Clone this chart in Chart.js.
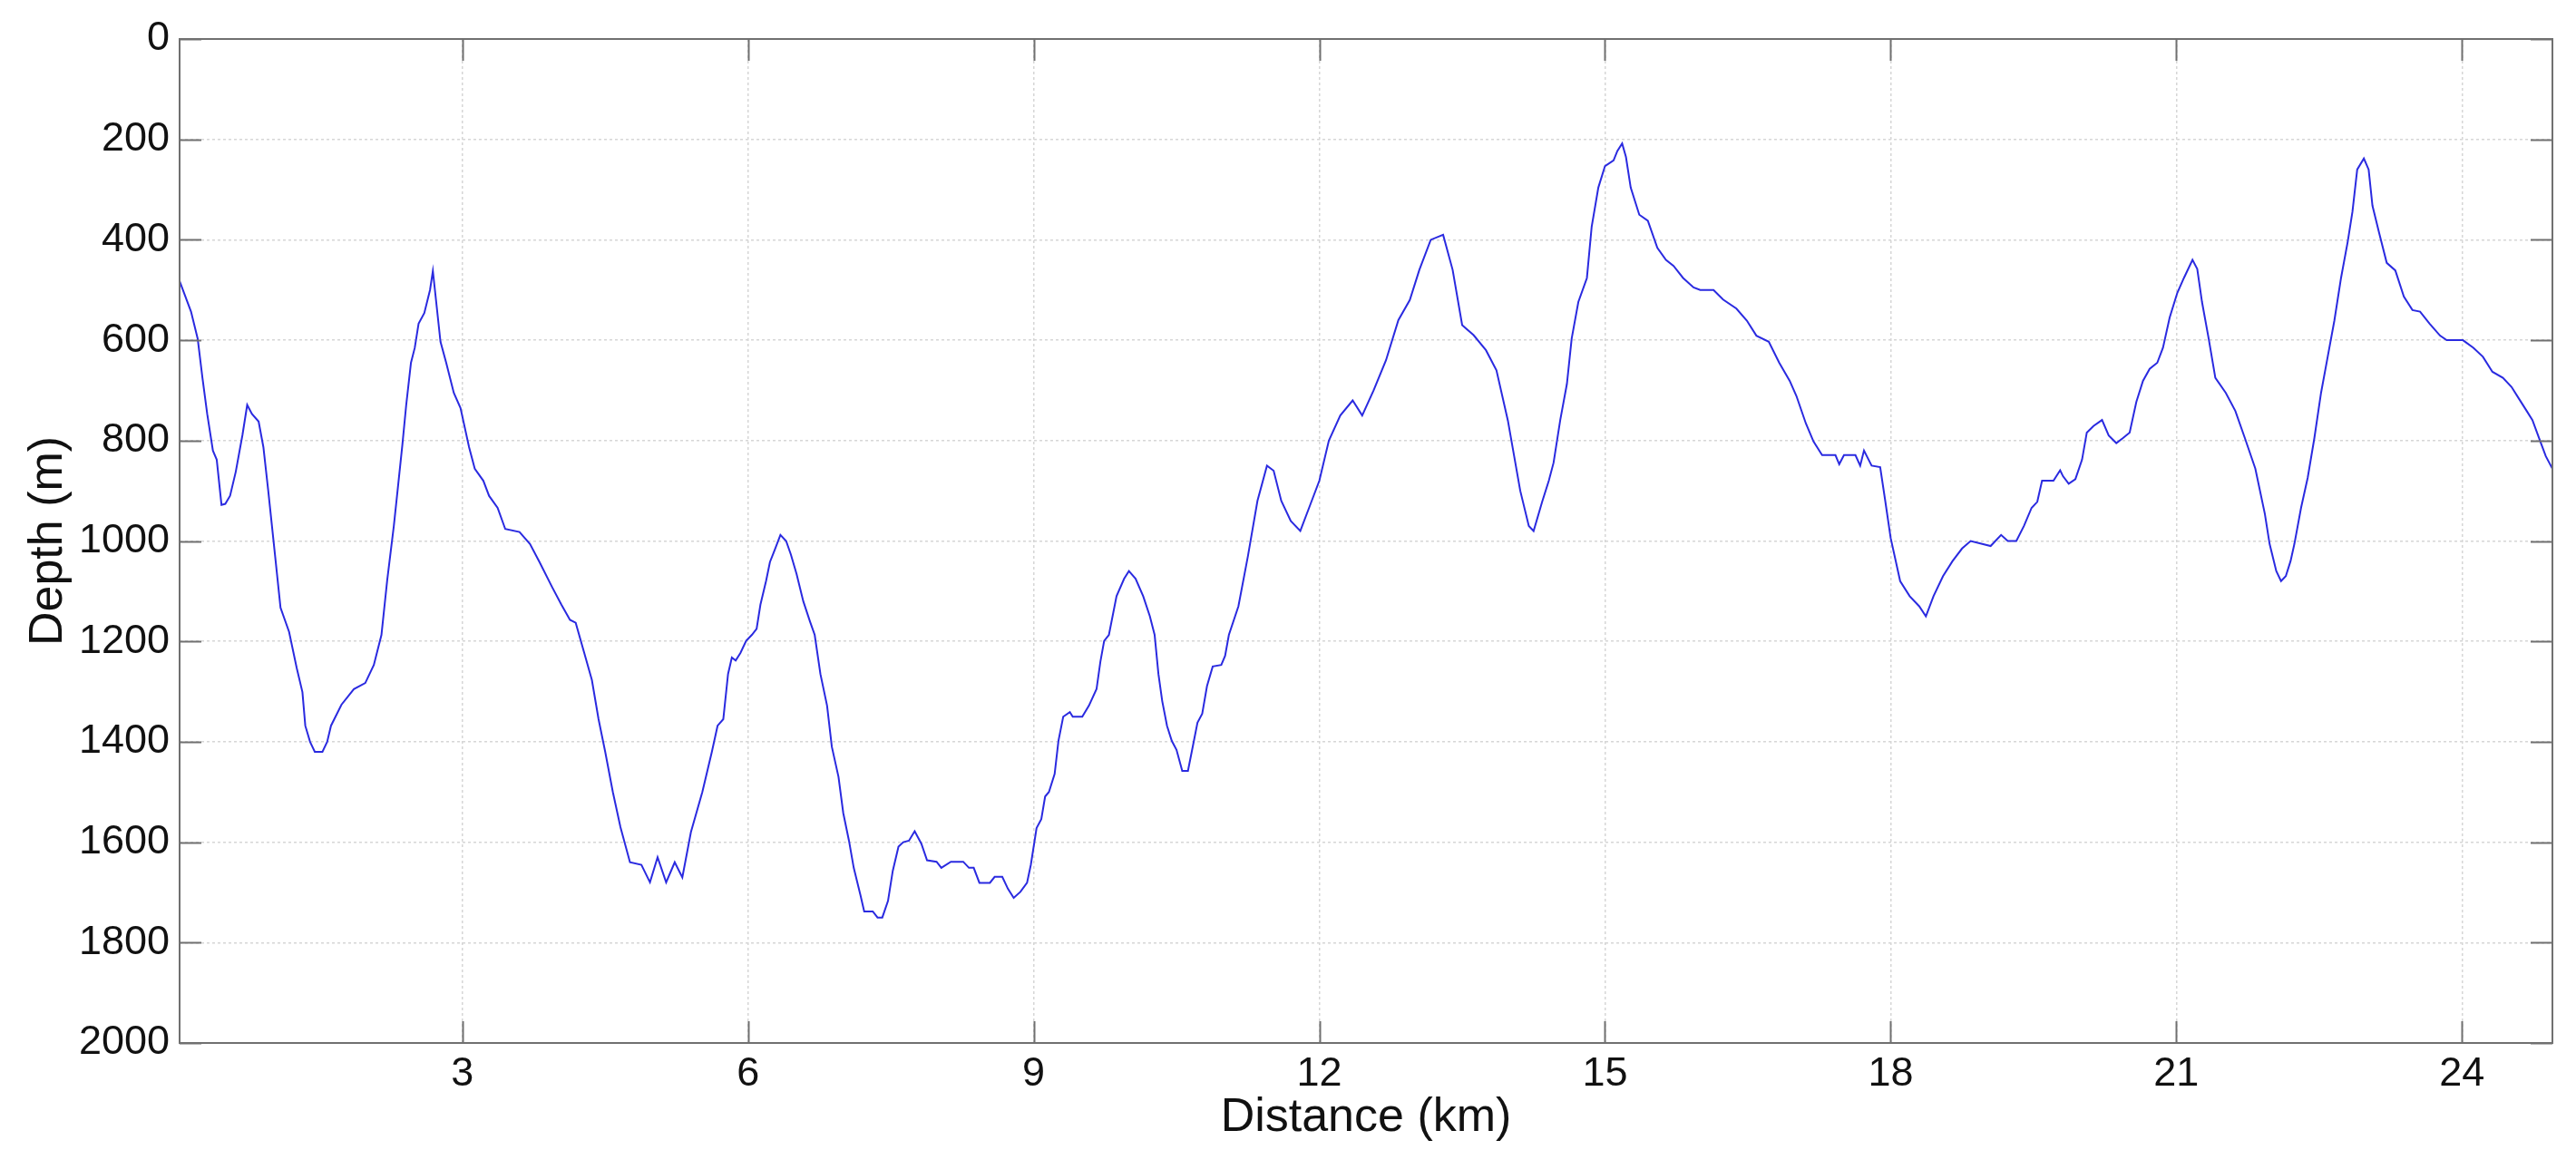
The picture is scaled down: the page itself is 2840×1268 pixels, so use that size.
<!DOCTYPE html>
<html lang="en">
<head>
    <meta charset="UTF-8">
    <title>Depth Profile</title>
    <style>
        body {
            margin: 0;
            background: #fff;
        }

        .chart-container {
            width: 2840px;
            height: 1268px;
            position: relative;
        }
    </style>
    <script src="https://cdn.jsdelivr.net/npm/chart.js"></script>
</head>
<body>
    <div class="chart-container">
        <canvas id="profileChart"></canvas>
    </div>
    <script>
        // values
        const distanceKm = [
            0.03, 0.15, 0.22, 0.27, 0.32, 0.38, 0.42, 0.47, 0.51, 0.56, 0.62, 0.69, 0.74, 0.79, 0.86, 0.91, 0.96,
            1.03, 1.09, 1.18, 1.26, 1.32, 1.35, 1.40, 1.45, 1.53, 1.58, 1.62, 1.73, 1.86, 1.98,
            2.07, 2.15, 2.21, 2.28, 2.32, 2.37, 2.41, 2.46, 2.50, 2.54, 2.60, 2.66, 2.69, 2.77, 2.83, 2.91, 2.98,
            3.07, 3.13, 3.22, 3.28, 3.37, 3.45, 3.60, 3.71, 3.81, 3.94,
            4.04, 4.13, 4.19, 4.28, 4.36, 4.43, 4.50, 4.58, 4.66, 4.76, 4.88, 4.97,
            5.05, 5.14, 5.23, 5.31, 5.40, 5.52, 5.62, 5.68, 5.74, 5.79, 5.83, 5.87, 5.92, 5.98,
            6.04, 6.09, 6.13, 6.19, 6.23, 6.28, 6.34, 6.40, 6.45, 6.51, 6.58, 6.65, 6.70, 6.76, 6.83, 6.88, 6.95,
            7.00, 7.06, 7.11, 7.18, 7.22, 7.31, 7.36, 7.41, 7.47, 7.52, 7.58, 7.63, 7.69, 7.75, 7.82, 7.88, 7.98,
            8.03, 8.13, 8.26, 8.32, 8.37, 8.43, 8.54, 8.59, 8.67, 8.73, 8.79, 8.86, 8.93, 8.97,
            9.03, 9.08, 9.12, 9.16, 9.22, 9.26, 9.31, 9.38, 9.41, 9.51, 9.58, 9.66, 9.70, 9.74, 9.79, 9.87, 9.95,
            10.00, 10.07, 10.15, 10.22, 10.27, 10.31, 10.35, 10.40, 10.45, 10.50, 10.56, 10.62, 10.67, 10.72, 10.77, 10.82, 10.88, 10.97,
            11.01, 11.05, 11.15, 11.25, 11.35, 11.45, 11.52, 11.60, 11.70, 11.80, 11.90,
            12.00, 12.10, 12.22, 12.35, 12.45, 12.57, 12.70, 12.83, 12.95,
            13.05, 13.17, 13.30, 13.40, 13.50, 13.62, 13.75, 13.86, 13.98,
            14.11, 14.20, 14.25, 14.34, 14.41, 14.46, 14.53, 14.60, 14.65, 14.72, 14.81, 14.86, 14.93,
            15.00, 15.09, 15.13, 15.18, 15.22, 15.27, 15.36, 15.45, 15.55, 15.64, 15.72, 15.82, 15.93,
            16.00, 16.14, 16.24, 16.38, 16.49, 16.59, 16.72, 16.83, 16.94,
            17.01, 17.11, 17.19, 17.28, 17.42, 17.46, 17.51, 17.63, 17.68, 17.72, 17.80, 17.89, 17.94,
            18.00, 18.10, 18.20, 18.30, 18.37, 18.45, 18.55, 18.65, 18.75, 18.84,
            19.05, 19.16, 19.23, 19.32, 19.40, 19.48, 19.54, 19.59, 19.71, 19.78, 19.81, 19.87, 19.94,
            20.01, 20.06, 20.13, 20.22, 20.29, 20.37, 20.44, 20.51, 20.58, 20.65, 20.72, 20.80, 20.86, 20.93,
            21.01, 21.08, 21.17, 21.22, 21.27, 21.34, 21.41, 21.52, 21.62, 21.72, 21.83, 21.93, 21.98,
            22.05, 22.10, 22.15, 22.20, 22.24, 22.31, 22.38, 22.45, 22.52, 22.59, 22.66, 22.73, 22.80, 22.85, 22.90, 22.97,
            23.02, 23.06, 23.13, 23.21, 23.30, 23.39, 23.48, 23.56, 23.66, 23.77, 23.84,
            24.01, 24.12, 24.22, 24.32, 24.43, 24.52, 24.60, 24.68, 24.74, 24.81, 24.88, 24.95
        ];

        const depthM = [
            482, 543, 597, 675, 747, 820, 838, 928, 926, 910, 862, 789, 729, 747, 762, 813, 898,
            1024, 1133, 1181, 1253, 1301, 1368, 1400, 1420, 1420, 1400, 1368, 1326, 1295, 1283,
            1247, 1187, 1079, 970, 898, 808, 729, 645, 615, 567, 546, 500, 462, 603, 645, 705, 735,
            813, 856, 880, 910, 934, 976, 982, 1006, 1042, 1091,
            1127, 1157, 1163, 1223, 1277, 1355, 1420, 1500, 1570, 1640, 1645, 1680,
            1630, 1680, 1640, 1670, 1580, 1500, 1420, 1368, 1355, 1265, 1232, 1238, 1223, 1199,
            1187, 1175, 1127, 1079, 1042, 1018, 988, 1000, 1027, 1066, 1120, 1160, 1187, 1265, 1328, 1410, 1470,
            1542, 1597, 1651, 1705, 1738, 1738, 1750, 1750, 1717, 1657, 1609, 1600, 1597, 1578, 1603, 1636, 1639,
            1651, 1639, 1639, 1651, 1651, 1681, 1681, 1669, 1669, 1693, 1711, 1699, 1681, 1645,
            1572, 1554, 1509, 1500, 1464, 1398, 1350, 1341, 1350, 1350, 1328, 1295, 1241, 1199, 1187, 1110, 1075,
            1060, 1075, 1110, 1150, 1187, 1265, 1319, 1368, 1398, 1416, 1458, 1458, 1410, 1362, 1344, 1289, 1250, 1247,
            1229, 1187, 1130, 1030, 920, 850, 860, 920, 960, 980, 930,
            880, 800, 750, 720, 750, 700, 640, 560, 520,
            460, 400, 390, 460, 570, 590, 620, 660, 760,
            900, 970, 980, 922, 880, 844, 759, 687, 597, 524, 476, 374, 296,
            253, 242, 223, 208, 235, 296, 350, 362, 416, 440, 452, 476, 495,
            500, 500, 519, 537, 561, 591, 603, 645, 681,
            711, 766, 802, 829, 829, 847, 829, 829, 850, 820, 850, 853, 916,
            994, 1080, 1110, 1130, 1150, 1110, 1070, 1040, 1015, 1000,
            1010, 988, 1000, 1000, 970, 934, 922, 880, 880, 859, 871, 886, 877,
            838, 784, 771, 759, 790, 805, 795, 784, 723, 681, 657, 645, 615, 555,
            506, 476, 440, 458, 524, 597, 675, 705, 741, 795, 856, 946, 1006,
            1060, 1080, 1070, 1040, 1006, 934, 874, 795, 705, 633, 561, 476, 404, 344, 260, 238,
            260, 332, 386, 446, 461, 513, 540, 543, 567, 591, 600,
            600, 615, 633, 663, 675, 693, 717, 741, 759, 795, 831, 856
        ];

        const distanceTicks = [3, 6, 9, 12, 15, 18, 21, 24];
        const depthTicks = [0, 200, 400, 600, 800, 1000, 1200, 1400, 1600, 1800, 2000];

        const labelFont = { family: "'Liberation Sans', Arial, sans-serif", size: 45 };
        const titleFont = { family: "'Liberation Sans', Arial, sans-serif", size: 52 };

        // MATLAB-style box with inward ticks on all four sides
        const boxTicks = {
            id: 'boxTicks',
            afterDraw(chart) {
                const { ctx, chartArea: a, scales: { x, y } } = chart;
                const len = 24;
                ctx.save();
                ctx.strokeStyle = '#707070';
                ctx.lineWidth = 2;
                ctx.beginPath();
                distanceTicks.forEach(function (v) {
                    const px = Math.round(x.getPixelForValue(v)) + 0.5;
                    ctx.moveTo(px, a.bottom);
                    ctx.lineTo(px, a.bottom - len);
                    ctx.moveTo(px, a.top);
                    ctx.lineTo(px, a.top + len);
                });
                depthTicks.forEach(function (v) {
                    const py = Math.round(y.getPixelForValue(v)) + 0.5;
                    ctx.moveTo(a.left, py);
                    ctx.lineTo(a.left + len, py);
                    ctx.moveTo(a.right, py);
                    ctx.lineTo(a.right - len, py);
                });
                ctx.stroke();
                ctx.strokeRect(a.left, a.top, a.right - a.left, a.bottom - a.top);
                ctx.restore();
            }
        };

        const ctx = document.getElementById('profileChart').getContext('2d');

        new Chart(ctx, {
            type: 'line',
            data: {
                datasets: [{
                    data: distanceKm.map(function (d, i) { return { x: d, y: depthM[i] }; }),
                    borderColor: '#2a2ae0',
                    borderWidth: 2,
                    pointRadius: 0,
                    tension: 0,
                    fill: false
                }]
            },
            options: {
                responsive: true,
                maintainAspectRatio: false,
                animation: false,
                layout: {
                    padding: { top: 43, right: 26, left: 0, bottom: 0 }
                },
                plugins: {
                    legend: { display: false },
                    tooltip: { enabled: false }
                },
                scales: {
                    x: {
                        type: 'linear',
                        min: 0.03,
                        max: 24.95,
                        afterBuildTicks: function (scale) {
                            scale.ticks = distanceTicks.map(function (v) { return { value: v }; });
                        },
                        afterFit: function (scale) { scale.height = 118; },
                        grid: { color: '#d6d6d6', lineWidth: 1.5, drawTicks: false },
                        border: { display: false, dash: [3, 3] },
                        ticks: {
                            color: '#111',
                            font: labelFont,
                            padding: 8,
                            maxRotation: 0,
                            callback: function (v) { return String(v); }
                        },
                        title: {
                            display: true,
                            text: 'Distance (km)',
                            color: '#111',
                            font: titleFont,
                            padding: { top: 0, bottom: 4 }
                        }
                    },
                    y: {
                        type: 'linear',
                        reverse: true,
                        min: 0,
                        max: 2000,
                        afterBuildTicks: function (scale) {
                            scale.ticks = depthTicks.map(function (v) { return { value: v }; });
                        },
                        afterFit: function (scale) { scale.width = 198; },
                        grid: { color: '#d6d6d6', lineWidth: 1.5, drawTicks: false },
                        border: { display: false, dash: [3, 3] },
                        ticks: {
                            color: '#111',
                            font: labelFont,
                            padding: 11,
                            callback: function (v) { return String(v); }
                        },
                        title: {
                            display: true,
                            text: 'Depth (m)',
                            color: '#111',
                            font: titleFont,
                            padding: { top: 22, bottom: 0 }
                        }
                    }
                }
            },
            plugins: [boxTicks]
        });
    </script>
</body>
</html>
